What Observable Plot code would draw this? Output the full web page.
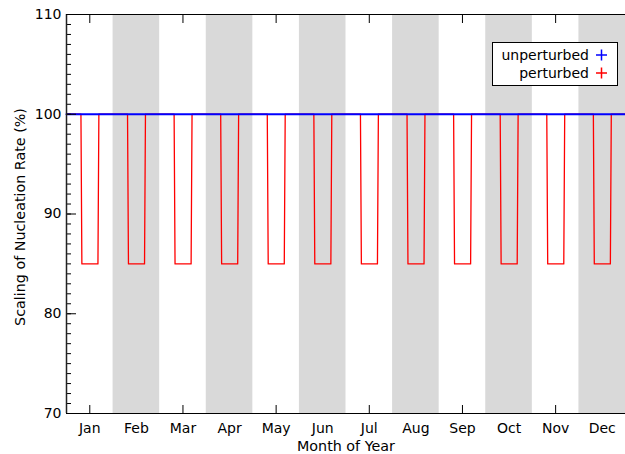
<!DOCTYPE html>
<html>
<head>
<meta charset="utf-8">
<script src="https://cdn.jsdelivr.net/npm/d3@7"></script>
<script src="https://cdn.jsdelivr.net/npm/@observablehq/plot@0.6"></script>
<style>
  html, body { margin: 0; padding: 0; background: #fff; }
  svg { display: block; }
</style>
</head>
<body>
<div id="chart"></div>
<script>
// ---- data ----
const months = ["Jan","Feb","Mar","Apr","May","Jun","Jul","Aug","Sep","Oct","Nov","Dec"];
const shadedMonths = [1, 3, 5, 7, 9, 11];           // Feb, Apr, Jun, Aug, Oct, Dec (0-based)
const unperturbedValue = 100;                          // % scaling
const perturbedLow = 85;                               // % scaling during the perturbation
// fraction of each month at which the perturbation ramps down / is low / ramps back up
const rampDownStart = [0.31,0.31,0.31,0.31,0.31,0.31,0.31,0.31,0.31,0.31,0.31,0.31];
const lowStart      = [0.33,0.33,0.33,0.33,0.33,0.33,0.33,0.33,0.33,0.33,0.33,0.33];
const lowEnd        = [0.675,0.675,0.675,0.675,0.675,0.675,0.675,0.675,0.675,0.675,0.675,0.675];
const rampUpEnd     = [0.695,0.695,0.695,0.695,0.695,0.695,0.695,0.695,0.695,0.695,0.695,0.695];
const yMajorTicks = [70, 80, 90, 100, 110];
const xTickMonths = [0, 2, 4, 6, 8, 10];              // Jan, Mar, May, Jul, Sep, Nov

// ---- tables built from the arrays ----
const perturbed = [{x: 0, y: unperturbedValue}];
months.forEach((m, i) => {
  perturbed.push({x: i + rampDownStart[i], y: unperturbedValue});
  perturbed.push({x: i + lowStart[i], y: perturbedLow});
  perturbed.push({x: i + lowEnd[i], y: perturbedLow});
  perturbed.push({x: i + rampUpEnd[i], y: unperturbedValue});
});
perturbed.push({x: months.length, y: unperturbedValue});
const unperturbed = [{x: 0, y: unperturbedValue}, {x: months.length, y: unperturbedValue}];
const bands = shadedMonths.map(i => ({x1: i, x2: i + 1}));
const monthCenters = months.map((m, i) => i + 0.5);
const tickCenters = xTickMonths.map(i => i + 0.5);
const yMinorTicks = d3.range(70, 111, 1);

const font = "DejaVu Sans, sans-serif";
const W = 625, H = 454, ML = 66, MR = 0, MT = 14, MB = 41;

const svg = Plot.plot({
  width: W,
  height: H,
  marginLeft: ML,
  marginRight: MR,
  marginTop: MT,
  marginBottom: MB,
  style: {fontFamily: font, fontSize: "14px", color: "#000", background: "#fff", overflow: "visible"},
  x: {domain: [0, 12]},
  y: {domain: [70, 110]},
  marks: [
    Plot.rect(bands, {x1: "x1", x2: "x2", y1: 70, y2: 110, fill: "#d9d9d9"}),
    Plot.line(perturbed, {x: "x", y: "y", stroke: "#ff0000", strokeWidth: 1.3}),
    Plot.line(unperturbed, {x: "x", y: "y", stroke: "#0000ff", strokeWidth: 2}),
    // y minor ticks (inward, 5px)
    Plot.axisY(yMinorTicks, {anchor: "left", tickSize: -5, text: null, label: null, stroke: "#000"}),
    // y major ticks (inward, 10px)
    Plot.axisY(yMajorTicks, {anchor: "left", tickSize: -10, text: null, label: null, stroke: "#000"}),
    // y labels
    Plot.axisY(yMajorTicks, {anchor: "left", tickSize: 0, tickPadding: 5, label: null, fontSize: 14}),
    // x ticks bottom & top (inward, 8px)
    Plot.axisX(tickCenters, {anchor: "bottom", tickSize: -8, text: null, label: null, stroke: "#000"}),
    Plot.axisX(tickCenters, {anchor: "top", tickSize: -8, text: null, label: null, stroke: "#000"}),
    // x month labels
    Plot.axisX(monthCenters, {anchor: "bottom", tickSize: 0, tickPadding: 10, label: null,
      tickFormat: d => months[Math.floor(d)], fontSize: 14}),
    // frame lines
    Plot.ruleX([0], {stroke: "#222", strokeWidth: 1.5}),
    Plot.ruleY([70], {stroke: "#000", strokeWidth: 1.2}),
    Plot.ruleY([110], {stroke: "#000", strokeWidth: 1.2})
  ]
});

const s = d3.select(svg);
// axis titles
s.append("text")
  .attr("x", 346).attr("y", 451)
  .attr("text-anchor", "middle")
  .attr("font-family", font).attr("font-size", 14.3)
  .text("Month of Year");
s.append("text")
  .attr("transform", "translate(25,217) rotate(-90)")
  .attr("text-anchor", "middle")
  .attr("font-family", font).attr("font-size", 14.3)
  .text("Scaling of Nucleation Rate (%)");

// legend
const legend = [
  {name: "unperturbed", color: "#0000ff"},
  {name: "perturbed", color: "#ff0000"}
];
const lg = s.append("g");
lg.append("rect")
  .attr("x", 492.5).attr("y", 42.5).attr("width", 125).attr("height", 43)
  .attr("fill", "#fff").attr("stroke", "#000").attr("stroke-width", 1);
legend.forEach((d, i) => {
  const cy = 55 + i * 18;
  lg.append("text")
    .attr("x", 589).attr("y", cy).attr("dy", "0.35em")
    .attr("text-anchor", "end")
    .attr("font-family", font).attr("font-size", 14)
    .text(d.name);
  lg.append("path")
    .attr("d", `M596,${cy}h11M601.5,${cy - 5.5}v11`)
    .attr("stroke", d.color).attr("stroke-width", 1.5).attr("fill", "none");
});

document.getElementById("chart").appendChild(svg);
</script>
</body>
</html>
